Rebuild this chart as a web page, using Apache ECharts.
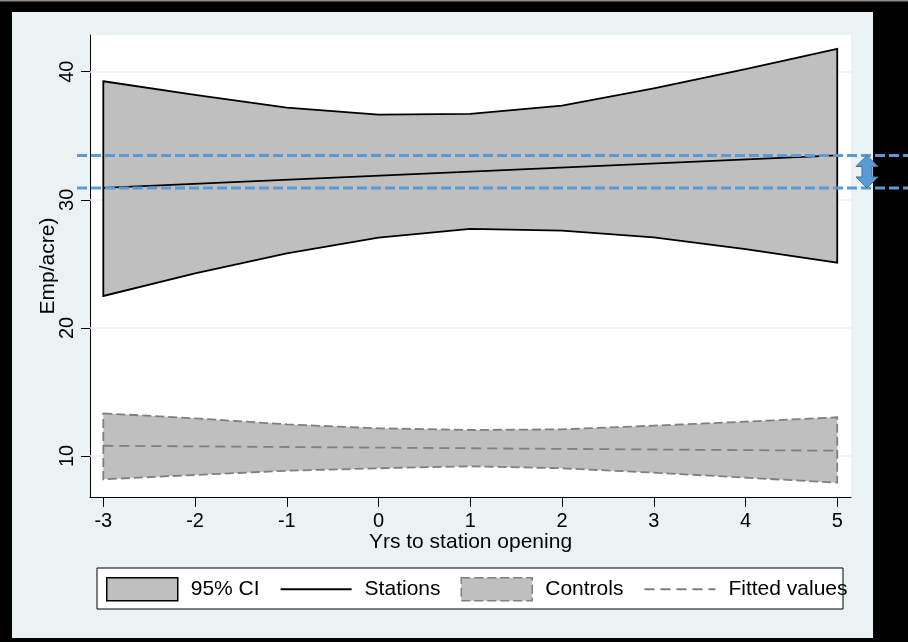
<!DOCTYPE html>
<html lang="en">
<head>
  <meta charset="UTF-8">
  <title>Employment density around station openings</title>
  <script src="https://cdn.jsdelivr.net/npm/echarts@6/dist/echarts.min.js"></script>
  <style>
    html, body { margin: 0; padding: 0; background: #000; }
    #chart { width: 908px; height: 642px; }
  </style>
</head>
<body>
  <div id="chart"></div>
  <script>
    // x positions of the CI bands (years to station opening)
    var years = [-3, -2, -1, 0, 1, 2, 3, 4, 5];
    // stations: 95% CI
    var stationsUpper = [39.25, 38.18, 37.19, 36.64, 36.70, 37.35, 38.70, 40.19, 41.77];
    var stationsLower = [22.49, 24.26, 25.82, 27.04, 27.72, 27.59, 27.07, 26.14, 25.09];
    // controls: 95% CI
    var controlsUpper = [13.33, 12.94, 12.47, 12.16, 12.03, 12.08, 12.37, 12.68, 13.02];
    var controlsLower = [8.18, 8.52, 8.85, 9.04, 9.20, 9.04, 8.70, 8.31, 7.92];
    // fitted straight lines, read at both ends
    var fitYears = [-3, 5];
    var stationsFit = [30.92, 33.46];
    var controlsFit = [10.80, 10.41];
    // ticks
    var xTicks = [-3, -2, -1, 0, 1, 2, 3, 4, 5];
    var yTicks = [10, 20, 30, 40];

    var chart = echarts.init(document.getElementById('chart'));

    // draws one closed CI polygon through the axis scales
    function bandRenderer(upper, lower, stroke, dash) {
      return function (params, api) {
        if (params.dataIndex !== 0) return null;
        var pts = [];
        for (var i = 0; i < years.length; i++) pts.push(api.coord([years[i], upper[i]]));
        for (var j = years.length - 1; j >= 0; j--) pts.push(api.coord([years[j], lower[j]]));
        return {
          type: 'polygon',
          shape: { points: pts },
          style: { fill: '#bfbfbf', stroke: stroke, lineWidth: 1.8, lineDash: dash }
        };
      };
    }

    function bandData(upper, lower) {
      return years.map(function (x, i) { return [x, upper[i], lower[i]]; });
    }

    var option = {
      backgroundColor: '#000',
      animation: false,
      textStyle: { fontFamily: 'Arial', color: '#000' },
      grid: {
        left: 90, right: 57, top: 35, bottom: 145,
        show: true, backgroundColor: '#fff', borderWidth: 0
      },
      xAxis: {
        type: 'value', min: -3.145, max: 5.15,
        axisLine: { show: true, onZero: false, lineStyle: { color: '#000', width: 1 } },
        axisTick: { show: true, length: 10, customValues: xTicks, lineStyle: { color: '#000' } },
        axisLabel: { customValues: xTicks, fontSize: 20, color: '#000', margin: 14 },
        splitLine: { show: false },
        name: 'Yrs to station opening', nameLocation: 'middle', nameGap: 35,
        nameMoveOverlap: false,
        nameTextStyle: { fontSize: 21, color: '#000' }
      },
      yAxis: {
        type: 'value', min: 6.8, max: 42.86,
        axisLine: { show: true, onZero: false, lineStyle: { color: '#000', width: 1 } },
        axisTick: { show: true, length: 9, customValues: yTicks, lineStyle: { color: '#000' } },
        axisLabel: { customValues: yTicks, rotate: 90, fontSize: 20, color: '#000', margin: 13 },
        splitLine: { show: false },
        name: 'Emp/acre)', nameLocation: 'middle', nameGap: 31,
        nameMoveOverlap: false,
        nameTextStyle: { fontSize: 21, color: '#000' }
      },
      legend: {
        left: 106, top: 577, padding: 0,
        itemWidth: 71, itemHeight: 23, itemGap: 20,
        selectedMode: false,
        textStyle: { fontSize: 21, color: '#000', padding: [0, 0, 0, 8] },
        data: [
          { name: '95% CI', icon: 'rect', itemStyle: { color: '#bfbfbf', borderColor: '#000', borderWidth: 1.5 } },
          { name: 'Stations', itemStyle: { opacity: 0 } },
          { name: 'Controls', icon: 'rect', itemStyle: { color: '#bfbfbf', borderColor: '#7f7f7f', borderWidth: 1.5, borderType: [9, 4] } },
          { name: 'Fitted values', itemStyle: { opacity: 0 } }
        ]
      },
      series: [
        {
          // light horizontal grid lines at the y ticks
          type: 'line', data: [], z: 1, silent: true,
          markLine: {
            silent: true, z: 1, symbol: ['none', 'none'], label: { show: false },
            lineStyle: { color: '#eaf2f3', type: 'solid', width: 1.5 },
            data: yTicks.map(function (v) { return { yAxis: v }; })
          }
        },
        {
          name: '95% CI', type: 'custom', z: 2, silent: true,
          renderItem: bandRenderer(stationsUpper, stationsLower, '#000', null),
          encode: { x: 0, y: [1, 2] },
          data: bandData(stationsUpper, stationsLower)
        },
        {
          name: 'Controls', type: 'custom', z: 2, silent: true,
          renderItem: bandRenderer(controlsUpper, controlsLower, '#7f7f7f', [9, 4]),
          encode: { x: 0, y: [1, 2] },
          data: bandData(controlsUpper, controlsLower)
        },
        {
          name: 'Stations', type: 'line', z: 3, symbol: 'none', silent: true,
          lineStyle: { color: '#000', width: 1.8 }, itemStyle: { color: '#000' },
          data: fitYears.map(function (x, i) { return [x, stationsFit[i]]; })
        },
        {
          name: 'Fitted values', type: 'line', z: 3, symbol: 'none', silent: true,
          lineStyle: { color: '#7f7f7f', width: 1.8, type: [10, 6] }, itemStyle: { color: '#7f7f7f' },
          data: fitYears.map(function (x, i) { return [x, controlsFit[i]]; })
        }
      ]
    };

    chart.setOption(option);

    // frame, legend box and the highlighted gap between the stations fit at -3 and 5
    var yHigh = chart.convertToPixel({ gridIndex: 0 }, [fitYears[1], stationsFit[1]])[1];
    var yLow = chart.convertToPixel({ gridIndex: 0 }, [fitYears[0], stationsFit[0]])[1];
    var ax = 867, head = 11, shaft = 5, hh = 11;
    var blue = '#5b9bd5';

    chart.setOption({
      graphic: [
        { type: 'rect', z: -100, shape: { x: 12, y: 12, width: 861, height: 626 }, style: { fill: '#eaf2f3' } },
        { type: 'rect', z: 100, shape: { x: 0, y: 0, width: 908, height: 1.5 }, style: { fill: '#8a8a8a' } },
        { type: 'rect', z: -1, shape: { x: 97, y: 568, width: 746, height: 41 }, style: { fill: '#fff', stroke: '#000', lineWidth: 1 } },
        { type: 'line', z: 100, shape: { x1: 77, y1: yHigh, x2: 908, y2: yHigh }, style: { stroke: blue, lineWidth: 3, lineDash: [10, 4] } },
        { type: 'line', z: 100, shape: { x1: 77, y1: yLow, x2: 908, y2: yLow }, style: { stroke: blue, lineWidth: 3, lineDash: [10, 4] } },
        {
          type: 'polygon', z: 101,
          shape: {
            points: [
              [ax, yHigh], [ax + head, yHigh + hh], [ax + shaft, yHigh + hh],
              [ax + shaft, yLow - hh], [ax + head, yLow - hh], [ax, yLow],
              [ax - head, yLow - hh], [ax - shaft, yLow - hh], [ax - shaft, yHigh + hh],
              [ax - head, yHigh + hh]
            ]
          },
          style: { fill: blue, stroke: '#41719c', lineWidth: 1 }
        }
      ]
    });
  </script>
</body>
</html>
